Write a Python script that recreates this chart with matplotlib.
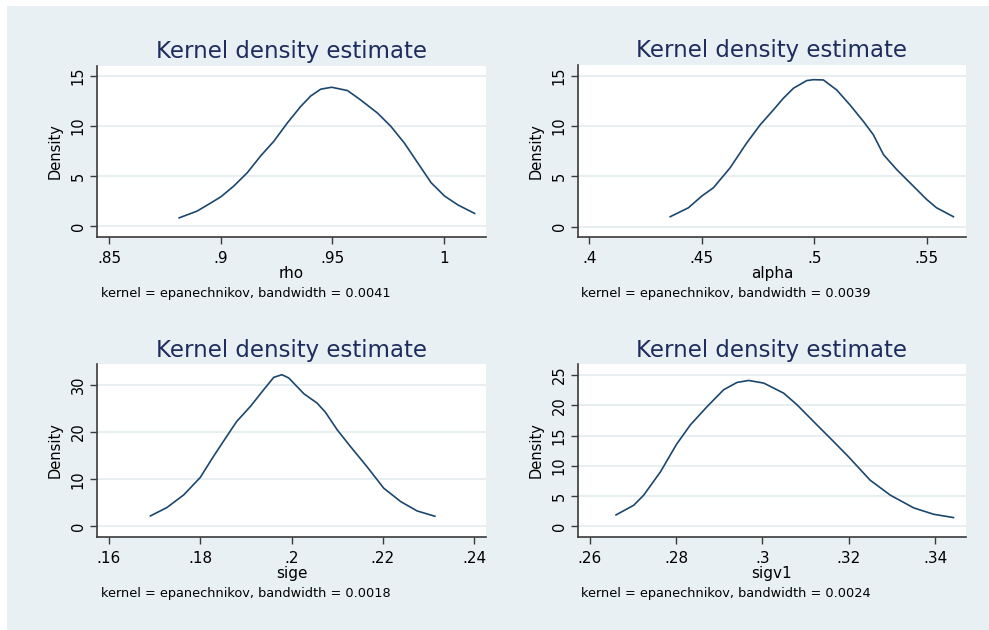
import matplotlib.pyplot as plt
from matplotlib.patches import Rectangle

# estimated density curves
rho_x = [0.8814, 0.8894, 0.8954, 0.9002, 0.9059, 0.9119, 0.9178, 0.9238, 0.9298, 0.9358,
         0.9403, 0.9448, 0.9497, 0.9568, 0.9627, 0.9702, 0.9762, 0.9822, 0.9882, 0.9942,
         1.0002, 1.0062, 1.0137]
rho_y = [0.85, 1.52, 2.31, 2.97, 4.03, 5.35, 7.0, 8.49, 10.3, 11.95,
         13.0, 13.68, 13.87, 13.54, 12.6, 11.3, 9.97, 8.32, 6.34, 4.36,
         3.03, 2.14, 1.29]

alpha_x = [0.4360, 0.4441, 0.4500, 0.4552, 0.4626, 0.4700, 0.4760, 0.4819, 0.4863, 0.4908,
           0.4967, 0.4997, 0.5041, 0.5100, 0.5159, 0.5219, 0.5263, 0.5308, 0.5367, 0.5441,
           0.5500, 0.5544, 0.5619]
alpha_y = [0.99, 1.88, 3.04, 3.87, 5.85, 8.33, 10.14, 11.63, 12.78, 13.78,
           14.54, 14.63, 14.6, 13.61, 12.12, 10.47, 9.15, 7.17, 5.68, 4.03,
           2.71, 1.88, 0.99]

sige_x = [0.1691, 0.1727, 0.1764, 0.1800, 0.1829, 0.1858, 0.1880, 0.1910, 0.1939, 0.1961,
          0.1979, 0.1994, 0.2027, 0.2056, 0.2074, 0.2100, 0.2129, 0.2165, 0.2202, 0.2239,
          0.2275, 0.2314]
sige_y = [2.2, 3.97, 6.67, 10.35, 14.82, 19.08, 22.27, 25.46, 29.0, 31.63,
          32.2, 31.5, 28.16, 26.17, 24.26, 20.5, 16.95, 12.7, 8.09, 5.25,
          3.26, 2.13]

sigv1_x = [0.2661, 0.2702, 0.2725, 0.2764, 0.2801, 0.2833, 0.2872, 0.2910, 0.2941, 0.2968,
           0.3003, 0.3049, 0.3080, 0.3126, 0.3157, 0.3199, 0.3249, 0.3296, 0.3350, 0.3396,
           0.3442]
sigv1_y = [1.88, 3.48, 5.14, 9.02, 13.55, 16.76, 19.8, 22.57, 23.78, 24.11,
           23.67, 22.01, 20.08, 16.76, 14.55, 11.5, 7.63, 5.14, 3.04, 1.99,
           1.44]

names = ['rho', 'alpha', 'sige', 'sigv1']
bandwidths = ['0.0041', '0.0039', '0.0018', '0.0024']

rho_xticks = [0.85, 0.9, 0.95, 1.0]
rho_xlabels = ['.85', '.9', '.95', '1']
alpha_xticks = [0.4, 0.45, 0.5, 0.55]
alpha_xlabels = ['.4', '.45', '.5', '.55']
sige_xticks = [0.16, 0.18, 0.2, 0.22, 0.24]
sige_xlabels = ['.16', '.18', '.2', '.22', '.24']
sigv1_xticks = [0.26, 0.28, 0.3, 0.32, 0.34]
sigv1_xlabels = ['.26', '.28', '.3', '.32', '.34']

rho_yticks = [0, 5, 10, 15]
alpha_yticks = [0, 5, 10, 15]
sige_yticks = [0, 10, 20, 30]
sigv1_yticks = [0, 5, 10, 15, 20, 25]

BG = '#e9f0f3'
LINE = '#1a476f'
TITLE = '#1e2d5e'

panels = [
    (rho_x, rho_y, rho_xticks, rho_xlabels, rho_yticks, (0.8446, 1.0188), (-1.06, 15.99)),
    (alpha_x, alpha_y, alpha_xticks, alpha_xlabels, alpha_yticks, (0.395, 0.5675), (-1.03, 16.09)),
    (sige_x, sige_y, sige_xticks, sige_xlabels, sige_yticks, (0.1574, 0.2426), (-2.28, 34.47)),
    (sigv1_x, sigv1_y, sigv1_xticks, sigv1_xlabels, sigv1_yticks, (0.2573, 0.3471), (-1.77, 26.83)),
]

W, H = 989, 630
fig = plt.figure(figsize=(W / 100, H / 100), dpi=100)
fig.patch.set_facecolor('white')
fig.add_artist(Rectangle((7 / W, 0), 1, 1 - 6 / H, transform=fig.transFigure,
                         facecolor=BG, edgecolor='none', zorder=-10))

# axes boxes in pixels: left, right, top, bottom
boxes = [(97, 486, 66, 237), (578, 966, 65, 237), (97, 486, 364, 537), (578, 966, 364, 537)]
note_pos = [(101, 297.5), (581, 297.5), (101, 597), (581, 597)]
title_pad = [5.5, 5.5, 4.8, 4.8]

for i, (xs, ys, xt, xl, yt, xlim, ylim) in enumerate(panels):
    l, r, t, b = boxes[i]
    ax = fig.add_axes([l / W, 1 - b / H, (r - l) / W, (b - t) / H])
    ax.set_facecolor('white')
    ax.plot(xs, ys, color=LINE, lw=1.2, zorder=3)
    ax.set_xlim(*xlim)
    ax.set_ylim(*ylim)
    ax.set_xticks(xt)
    ax.set_xticklabels(xl)
    ax.set_yticks(yt)
    ax.set_yticklabels([str(v) for v in yt], rotation=90, va='center')
    for v in yt:
        ax.axhline(v, color='#e4ecef', lw=1.2, zorder=1)
    for s in ['top', 'right']:
        ax.spines[s].set_visible(False)
    for s in ['left', 'bottom']:
        ax.spines[s].set_color('#3a3a3a')
        ax.spines[s].set_linewidth(1.2)
    ax.tick_params(axis='x', length=5, width=1.0, color='#3a3a3a', pad=5, labelsize=11)
    ax.tick_params(axis='y', length=5, width=1.0, color='#3a3a3a', pad=3, labelsize=10.5)
    ax.set_title('Kernel density estimate', fontsize=16.5, color=TITLE, pad=title_pad[i])
    ax.set_xlabel(names[i], fontsize=11, labelpad=0)
    ax.set_ylabel('Density', fontsize=10.5, labelpad=6)
    nx, ny = note_pos[i]
    fig.text(nx / W, 1 - ny / H, 'kernel = epanechnikov, bandwidth = ' + bandwidths[i],
             fontsize=9.3, va='baseline', ha='left')

fig.savefig('out.png', dpi=100, facecolor=fig.get_facecolor())
